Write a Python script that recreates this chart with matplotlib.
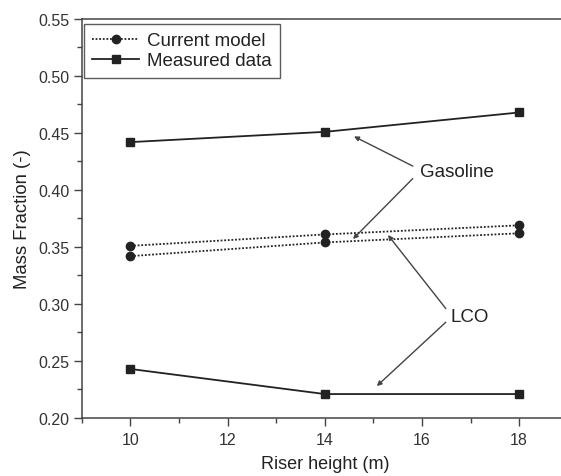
import matplotlib.pyplot as plt
from matplotlib.ticker import MultipleLocator

plt.rcParams['font.family'] = ['Liberation Sans', 'DejaVu Sans']

# data
height = [10, 14, 18]
model_upper = [0.351, 0.361, 0.369]
model_lower = [0.342, 0.354, 0.362]
meas_gasoline = [0.442, 0.451, 0.468]
meas_lco = [0.243, 0.221, 0.221]

ink = '#222222'

fig = plt.figure(figsize=(5.61, 4.77), dpi=100)
ax = fig.add_axes([0.146, 0.1216, 0.866, 0.8365])

ax.plot(height, model_upper, linestyle=(0, (1, 1)), color=ink, lw=1.3,
        marker='o', ms=6, label='Current model')
ax.plot(height, model_lower, linestyle=(0, (1, 1)), color=ink, lw=1.3,
        marker='o', ms=6)
ax.plot(height, meas_gasoline, linestyle='-', color=ink, lw=1.3,
        marker='s', ms=5.5, label='Measured data')
ax.plot(height, meas_lco, linestyle='-', color=ink, lw=1.3,
        marker='s', ms=5.5)

arrow = dict(arrowstyle='-|>', color='#444444', lw=1, mutation_scale=7,
             shrinkA=0, shrinkB=0)

# Gasoline labels
ax.text(15.95, 0.416, 'Gasoline', fontsize=13.5, color=ink, va='center')
ax.annotate('', xy=(14.6, 0.447), xytext=(15.81, 0.421), arrowprops=arrow)
ax.annotate('', xy=(14.58, 0.357), xytext=(15.81, 0.410), arrowprops=arrow)

# LCO labels
ax.text(16.59, 0.289, 'LCO', fontsize=13.5, color=ink, va='center')
ax.annotate('', xy=(15.30, 0.3605), xytext=(16.49, 0.296), arrowprops=arrow)
ax.annotate('', xy=(15.07, 0.228), xytext=(16.49, 0.284), arrowprops=arrow)

ax.set_xlim(9, 19)
ax.set_ylim(0.20, 0.55)
ax.xaxis.set_major_locator(MultipleLocator(2))
ax.xaxis.set_minor_locator(MultipleLocator(1))
ax.yaxis.set_major_locator(MultipleLocator(0.05))
ax.yaxis.set_minor_locator(MultipleLocator(0.025))
ax.yaxis.set_major_formatter(plt.FormatStrFormatter('%.2f'))

ax.tick_params(which='both', direction='out', colors='#444444',
               labelcolor='#333333', labelsize=11.5, pad=3)
ax.tick_params(axis='x', which='major', pad=4)
ax.tick_params(which='major', length=6, width=1)
ax.tick_params(which='minor', length=3.5, width=1)
for s in ax.spines.values():
    s.set_color('#444444')
    s.set_linewidth(1.1)

ax.set_xlabel('Riser height (m)', fontsize=13, color=ink, labelpad=6)
ax.set_ylabel('Mass Fraction (-)', fontsize=13.3, color=ink, labelpad=5)

leg = ax.legend(loc='upper left', bbox_to_anchor=(0.004, 0.988), fontsize=13.5,
                frameon=True, fancybox=False, handlelength=2.5,
                borderpad=0.45, labelspacing=0.15, handletextpad=0.4,
                borderaxespad=0)
leg.get_frame().set_edgecolor('#333333')
leg.get_frame().set_linewidth(1)
for t in leg.get_texts():
    t.set_color(ink)

fig.savefig('out.png', dpi=100)
